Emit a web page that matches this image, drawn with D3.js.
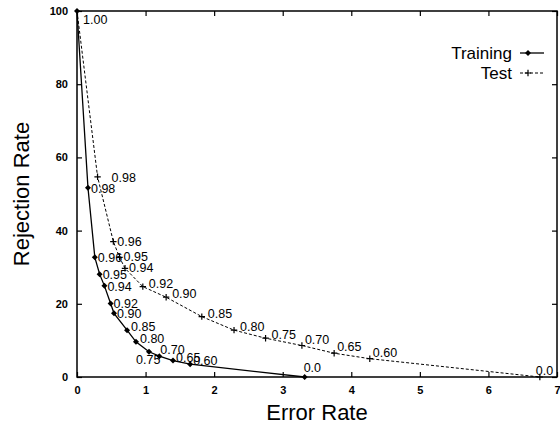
<!DOCTYPE html>
<html>
<head>
<meta charset="utf-8">
<script src="https://cdn.jsdelivr.net/npm/d3@7"></script>
<style>
  html, body { margin: 0; padding: 0; background: #fff; }
  svg { display: block; }
</style>
</head>
<body>
<div id="chart"></div>
<script>
// Error rate vs rejection rate, training and test curves, labelled by threshold

const xTicks = [0, 1, 2, 3, 4, 5, 6, 7];
const yTicks = [0, 20, 40, 60, 80, 100];

const trainLabels = ['1.00', '0.98', '0.96', '0.95', '0.94', '0.92', '0.90', '0.85', '0.80', '0.75', '0.70', '0.65', '0.60', '0.0'];
const trainError  = [0, 0.16, 0.26, 0.33, 0.40, 0.49, 0.54, 0.73, 0.86, 1.05, 1.20, 1.40, 1.65, 3.32];
const trainReject = [100, 51.7, 32.7, 28.1, 24.9, 20.1, 17.4, 12.8, 9.6, 6.9, 5.7, 4.5, 3.5, 0];

const testLabels = ['1.00', '0.98', '0.96', '0.95', '0.94', '0.92', '0.90', '0.85', '0.80', '0.75', '0.70', '0.65', '0.60', '0.0'];
const testError  = [0, 0.30, 0.53, 0.62, 0.70, 0.96, 1.30, 1.82, 2.29, 2.75, 3.28, 3.75, 4.27, 6.75];
const testReject = [100, 54.7, 37.0, 32.7, 29.7, 24.7, 21.8, 16.5, 12.8, 10.6, 8.6, 6.5, 5.0, 0];

const W = 560, H = 428;
const M = { left: 77, right: 3, top: 11, bottom: 51 };
const FONT = '"Liberation Sans", Arial, Helvetica, sans-serif';

const x = d3.scaleLinear().domain([0, 7]).range([M.left, W - M.right]);
const y = d3.scaleLinear().domain([0, 100]).range([H - M.bottom, M.top]);

const svg = d3.select('#chart').append('svg')
  .attr('width', W)
  .attr('height', H)
  .style('font-family', FONT);

// Ticks pointing inward on all four sides
const TL = 5;
svg.append('g')
  .attr('transform', 'translate(0,' + y(0) + ')')
  .call(d3.axisBottom(x).tickValues(xTicks).tickSize(-TL).tickPadding(9).tickFormat(d3.format('d')))
  .call(g => g.select('.domain').remove());
svg.append('g')
  .attr('transform', 'translate(0,' + y(100) + ')')
  .call(d3.axisTop(x).tickValues(xTicks).tickSize(-TL).tickFormat(''))
  .call(g => g.select('.domain').remove());
svg.append('g')
  .attr('transform', 'translate(' + x(0) + ',0)')
  .call(d3.axisLeft(y).tickValues(yTicks).tickSize(-TL).tickPadding(9).tickFormat(d3.format('d')))
  .call(g => g.select('.domain').remove());
svg.append('g')
  .attr('transform', 'translate(' + x(7) + ',0)')
  .call(d3.axisRight(y).tickValues(yTicks).tickSize(-TL).tickFormat(''))
  .call(g => g.select('.domain').remove());

svg.selectAll('.tick line').attr('stroke', '#000').attr('stroke-width', 1.2);
svg.selectAll('.tick text')
  .attr('fill', '#000')
  .attr('font-size', 11)
  .attr('font-weight', 'bold')
  .attr('font-family', FONT);

// Frame
svg.append('rect')
  .attr('x', x(0)).attr('y', y(100))
  .attr('width', x(7) - x(0)).attr('height', y(0) - y(100))
  .attr('fill', 'none')
  .attr('stroke', '#000')
  .attr('stroke-width', 1.5);

// Axis titles
svg.append('text')
  .attr('x', (x(0) + x(7)) / 2)
  .attr('y', 420)
  .attr('text-anchor', 'middle')
  .attr('font-size', 22)
  .text('Error Rate');
svg.append('text')
  .attr('transform', 'translate(29,' + ((y(0) + y(100)) / 2) + ') rotate(-90)')
  .attr('text-anchor', 'middle')
  .attr('font-size', 22)
  .text('Rejection Rate');

const line = d3.line().x(d => x(d[0])).y(d => y(d[1]));
const train = trainError.map((e, i) => [e, trainReject[i], trainLabels[i]]);
const test  = testError.map((e, i) => [e, testReject[i], testLabels[i]]);

// small square diamond, about 6px across
function diamondPath(px, py) {
  const a = 3;
  return 'M' + px + ',' + (py - a) + 'L' + (px + a) + ',' + py + 'L' + px + ',' + (py + a) + 'L' + (px - a) + ',' + py + 'Z';
}
function plusPath(px, py) {
  const a = 3.2;
  return 'M' + (px - a) + ',' + py + 'H' + (px + a) + 'M' + px + ',' + (py - a) + 'V' + (py + a);
}

// Test curve (dashed, plus markers)
svg.append('path')
  .datum(test)
  .attr('d', line)
  .attr('fill', 'none')
  .attr('stroke', '#000')
  .attr('stroke-width', 1)
  .attr('stroke-dasharray', '3,2');
svg.append('g').selectAll('path')
  .data(test.slice(1))
  .join('path')
  .attr('d', d => plusPath(x(d[0]), y(d[1])))
  .attr('stroke', '#000')
  .attr('stroke-width', 1.2);

// Training curve (solid, diamond markers)
svg.append('path')
  .datum(train)
  .attr('d', line)
  .attr('fill', 'none')
  .attr('stroke', '#000')
  .attr('stroke-width', 1.3);
svg.append('g').selectAll('path')
  .data(train)
  .join('path')
  .attr('d', d => diamondPath(x(d[0]), y(d[1])))
  .attr('fill', '#000');

// Threshold labels: default nudge right of the point, a few placed elsewhere
function nudge(series, d, i) {
  if (i === 0) return [6, 13];
  if (series === 'train') {
    if (d[2] === '0.75') return [-13, 12];
    if (d[2] === '0.70') return [1, -2];
    if (d[2] === '0.0') return [-1, -5];
    if (d[2] === '0.80' || d[2] === '0.85') return [4, 1];
    if (d[2] === '0.65' || d[2] === '0.60') return [3, 1];
    return [3, 5];
  }
  if (d[2] === '0.98') return [14, 5];
  if (d[2] === '0.0') return [-4, -2];
  if (i <= 4) return [4, 4];
  if (i <= 9) return [6, 1];
  return [3, -2];
}

function addLabels(series, data) {
  svg.append('g').selectAll('text')
    .data(data.filter((d, i) => !(series === 'test' && i === 0)))
    .join('text')
    .attr('x', (d, i) => x(d[0]) + nudge(series, d, series === 'test' ? i + 1 : i)[0])
    .attr('y', (d, i) => y(d[1]) + nudge(series, d, series === 'test' ? i + 1 : i)[1])
    .attr('font-size', 12.5)
    .attr('fill', '#000')
    .text(d => d[2]);
}
addLabels('train', train);
addLabels('test', test);

// Legend
const legend = svg.append('g');
[['Training', false], ['Test', true]].forEach(function(item, k) {
  const ly = 53 + k * 20;
  legend.append('text')
    .attr('x', 512).attr('y', ly + 6)
    .attr('text-anchor', 'end')
    .attr('font-size', 17)
    .text(item[0]);
  legend.append('line')
    .attr('x1', 520).attr('x2', 544).attr('y1', ly).attr('y2', ly)
    .attr('stroke', '#000')
    .attr('stroke-width', item[1] ? 1 : 1.3)
    .attr('stroke-dasharray', item[1] ? '3,2' : null);
  if (item[1]) {
    legend.append('path').attr('d', plusPath(528, ly)).attr('stroke', '#000').attr('stroke-width', 1.2);
  } else {
    legend.append('path').attr('d', diamondPath(528, ly)).attr('fill', '#000');
  }
});
</script>
</body>
</html>
